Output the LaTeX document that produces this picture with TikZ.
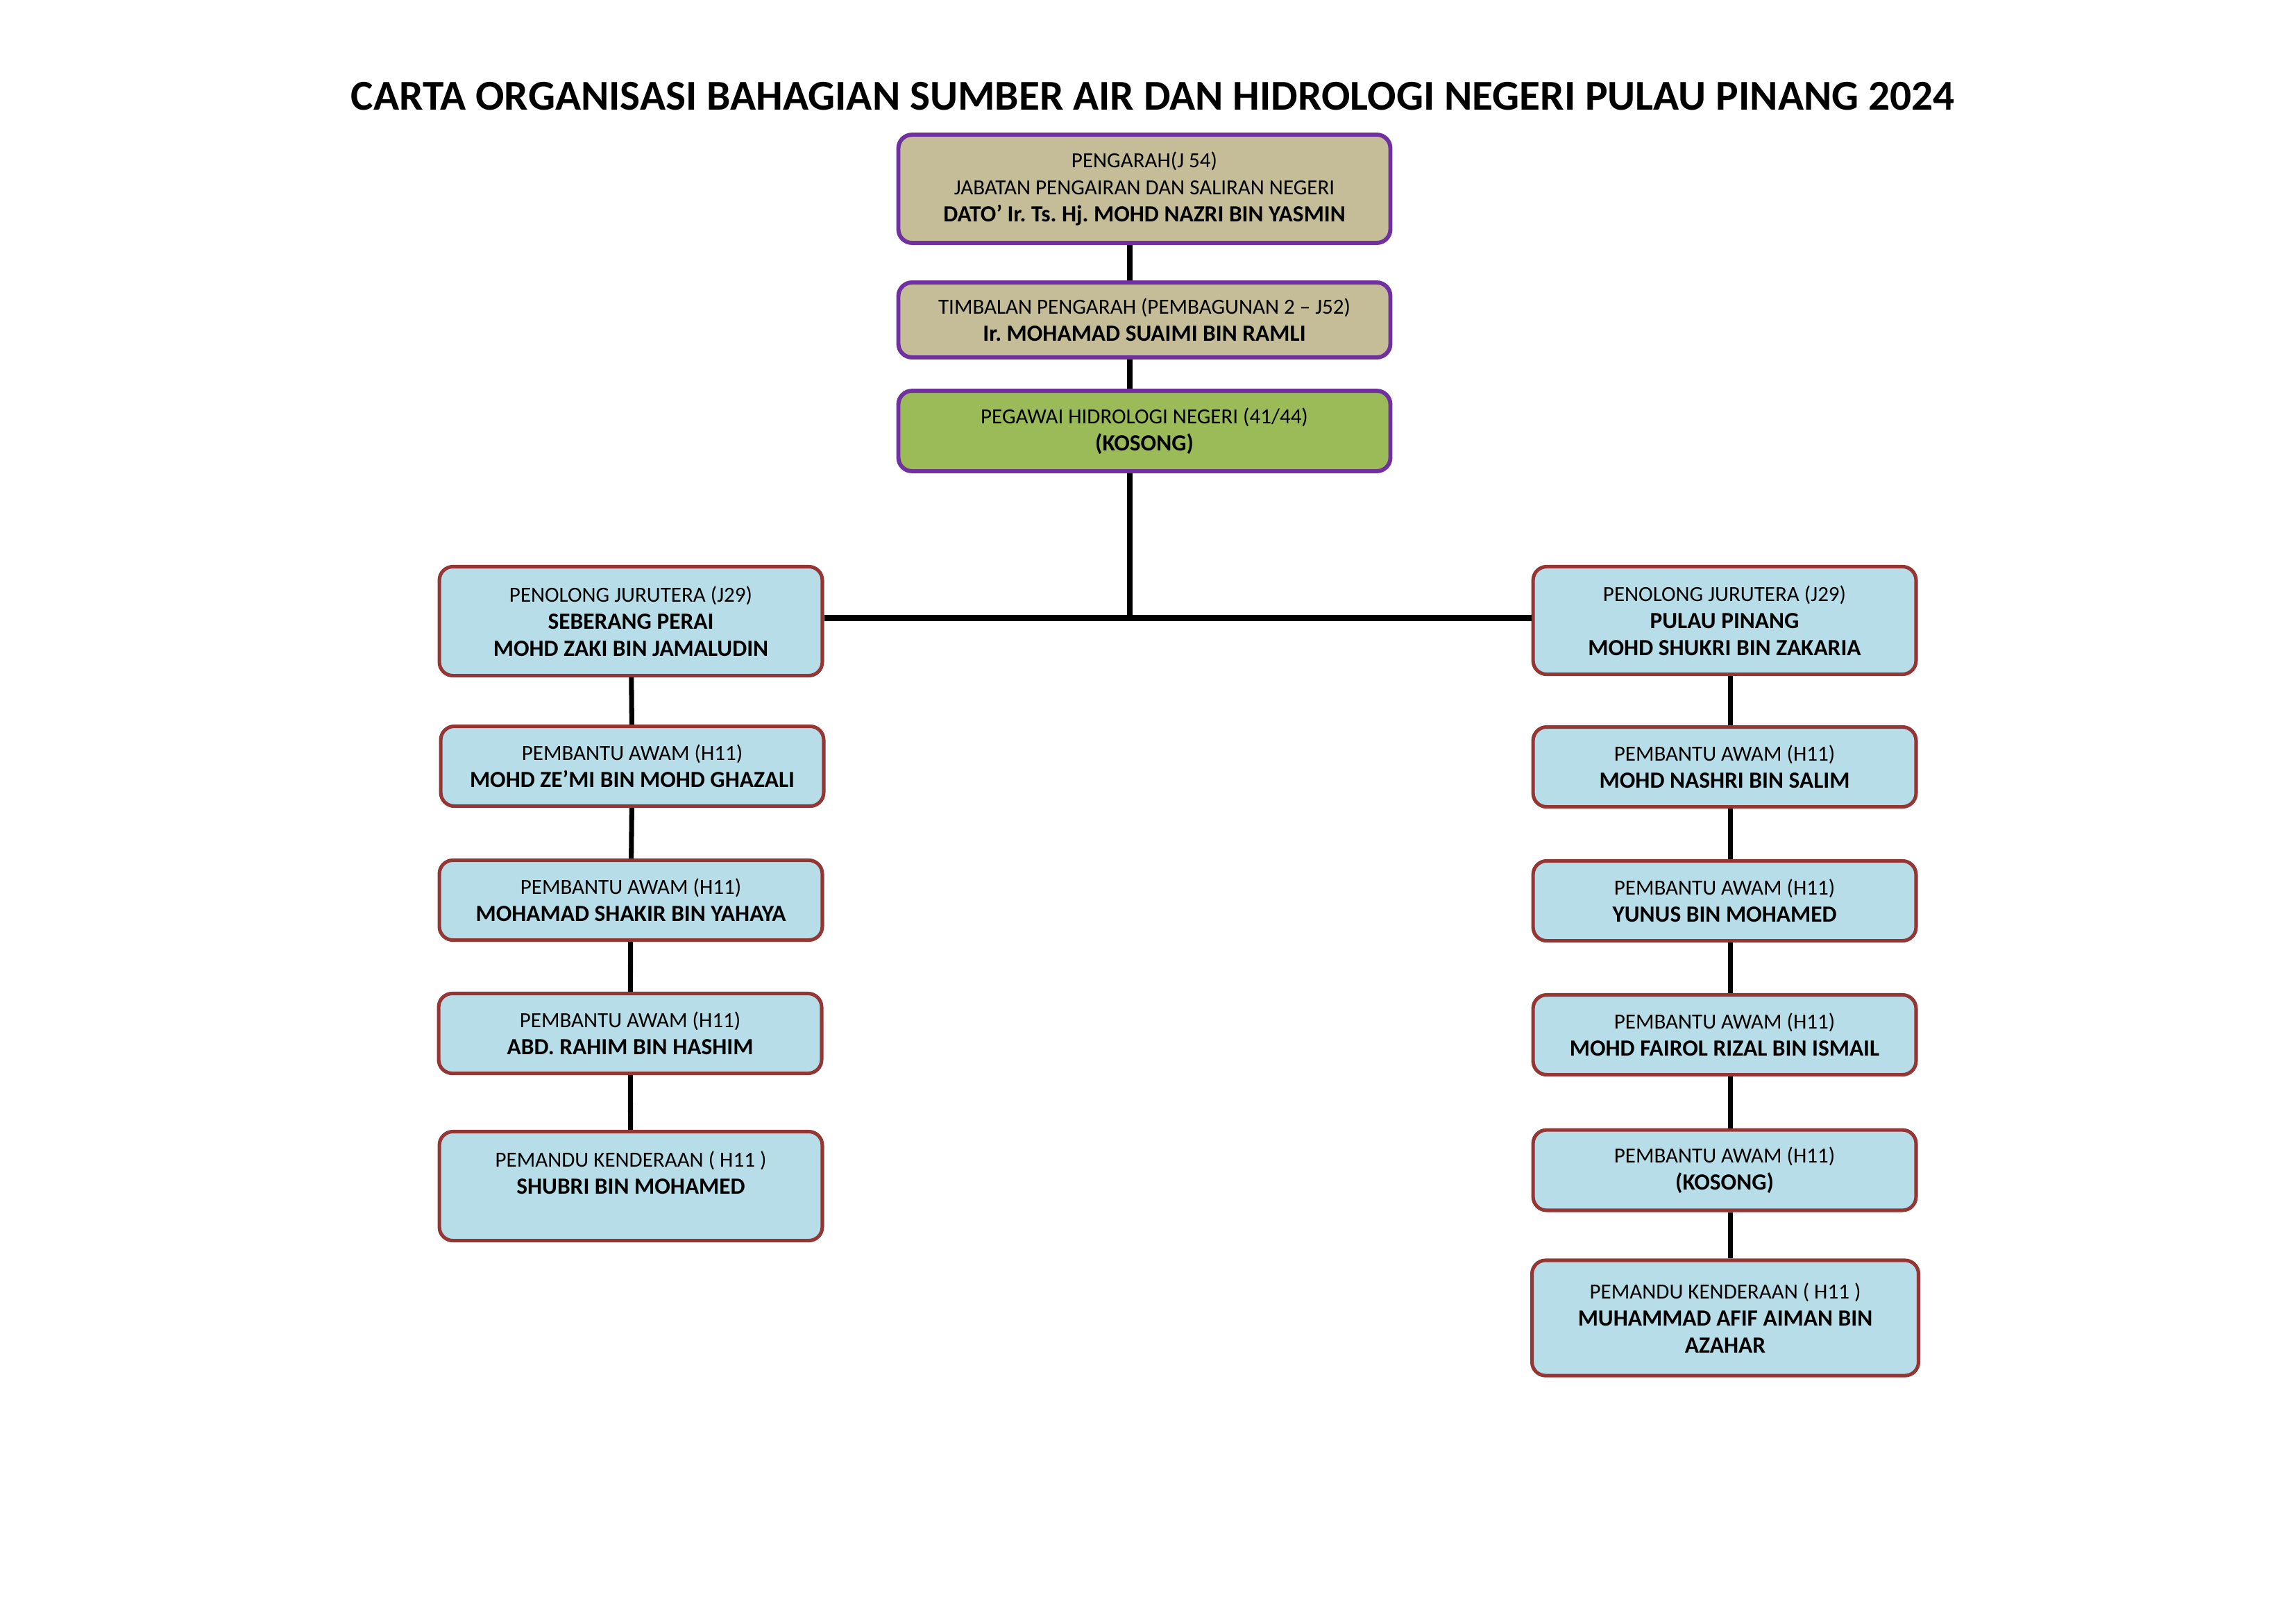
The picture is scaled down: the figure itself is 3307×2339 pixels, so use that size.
\documentclass[tikz,border=0pt]{standalone}
\usepackage{fontspec}
\setmainfont{Carlito}
\usetikzlibrary{positioning}
\frenchspacing
\newcommand{\nama}[1]{{\fontsize{8.5}{9.9}\selectfont\bfseries #1}}

\begin{document}
\begin{tikzpicture}[x=0.2546pt, y=-0.2546pt,
    headbox/.style={draw=boxPurple, line width=1.5pt, rounded corners=5pt,
        align=center, font=\fontsize{7.9}{9.9}\selectfont,
        minimum width=180.5pt, inner sep=2pt},
    staffbox/.style={draw=boxRed, fill=staffFill, line width=1.3pt,
        rounded corners=5pt, align=center, font=\fontsize{7.9}{9.9}\selectfont,
        minimum width=140.5pt, inner sep=2pt},
    link/.style={line width=1.8pt}]

\definecolor{boxPurple}{RGB}{112,48,160}
\definecolor{boxRed}{RGB}{148,54,52}
\definecolor{headFill}{RGB}{196,189,151}
\definecolor{greenFill}{RGB}{155,187,89}
\definecolor{staffFill}{RGB}{183,222,232}

\useasboundingbox (0,0) rectangle (3307,2339);

% Title
\node[font=\fontsize{15.6}{18}\selectfont\bfseries] (title) at (1661,139)
    {CARTA ORGANISASI BAHAGIAN SUMBER AIR DAN HIDROLOGI NEGERI PULAU PINANG 2024};

% Top of the chart
\node[headbox, fill=headFill, minimum height=39.7pt] (pengarah) at (1649,272)
    {PENGARAH(J 54)\\JABATAN PENGAIRAN DAN SALIRAN NEGERI\\\nama{DATO’ Ir. Ts. Hj. MOHD NAZRI BIN YASMIN}};
\node[headbox, fill=headFill, minimum height=27.5pt] (timbalan) at (1649,461)
    {TIMBALAN PENGARAH (PEMBAGUNAN 2 – J52)\\\nama{Ir. MOHAMAD SUAIMI BIN RAMLI}};
\node[headbox, fill=greenFill, minimum height=29.5pt] (hidro) at (1649,621)
    {PEGAWAI HIDROLOGI NEGERI (41/44)\\\nama{(KOSONG)}};

\coordinate (spine) at (1628,890);
\coordinate (ppline) at (2493,890);

% Seberang Perai column
\node[staffbox, minimum height=40pt] (pjsp) at (909,895)
    {PENOLONG JURUTERA (J29)\\\nama{SEBERANG PERAI}\\\nama{MOHD ZAKI BIN JAMALUDIN}};
\node[staffbox, minimum height=29.3pt] (sp1) at (911,1104)
    {PEMBANTU AWAM (H11)\\\nama{MOHD ZE’MI BIN MOHD GHAZALI}};
\node[staffbox, minimum height=29.3pt] (sp2) at (909,1297)
    {PEMBANTU AWAM (H11)\\\nama{MOHAMAD SHAKIR BIN YAHAYA}};
\node[staffbox, minimum height=29.3pt] (sp3) at (908,1489)
    {PEMBANTU AWAM (H11)\\\nama{ABD. RAHIM BIN HASHIM}};
\node[staffbox, minimum height=40pt] (sp4) at (909,1709)
    {PEMANDU KENDERAAN ( H11 )\\\nama{SHUBRI BIN MOHAMED}\\\mbox{}};

% Pulau Pinang column
\node[staffbox, minimum height=39.5pt] (pjpp) at (2485,894)
    {PENOLONG JURUTERA (J29)\\\nama{PULAU PINANG}\\\nama{MOHD SHUKRI BIN ZAKARIA}};
\node[staffbox, minimum height=29.3pt] (pp1) at (2485,1105)
    {PEMBANTU AWAM (H11)\\\nama{MOHD NASHRI BIN SALIM}};
\node[staffbox, minimum height=29.3pt] (pp2) at (2485,1298)
    {PEMBANTU AWAM (H11)\\\nama{YUNUS BIN MOHAMED}};
\node[staffbox, minimum height=29.3pt] (pp3) at (2485,1491)
    {PEMBANTU AWAM (H11)\\\nama{MOHD FAIROL RIZAL BIN ISMAIL}};
\node[staffbox, minimum height=29.5pt] (pp4) at (2485,1686)
    {PEMBANTU AWAM (H11)\\\nama{(KOSONG)}};
\node[staffbox, minimum height=42.3pt, minimum width=141.8pt] (pp5) at (2486,1899)
    {PEMANDU KENDERAAN ( H11 )\\\nama{MUHAMMAD AFIF AIMAN BIN}\\\nama{AZAHAR}};

% Connectors
\draw[link] (pengarah.south -| spine) -- (timbalan.north -| spine);
\draw[link] (timbalan.south -| spine) -- (hidro.north -| spine);
\draw[link] (hidro.south -| spine) -- (spine);
\draw[line width=2.3pt] (pjsp.east |- spine) -- (pjpp.west |- spine);
\foreach \a/\b in {pjsp/sp1, sp1/sp2, sp2/sp3, sp3/sp4}
    \draw[link] (\a) -- (\b);
\foreach \a/\b in {pjpp/pp1, pp1/pp2, pp2/pp3, pp3/pp4, pp4/pp5}
    \draw[link] (\a.south -| ppline) -- (\b.north -| ppline);

\end{tikzpicture}
\end{document}
